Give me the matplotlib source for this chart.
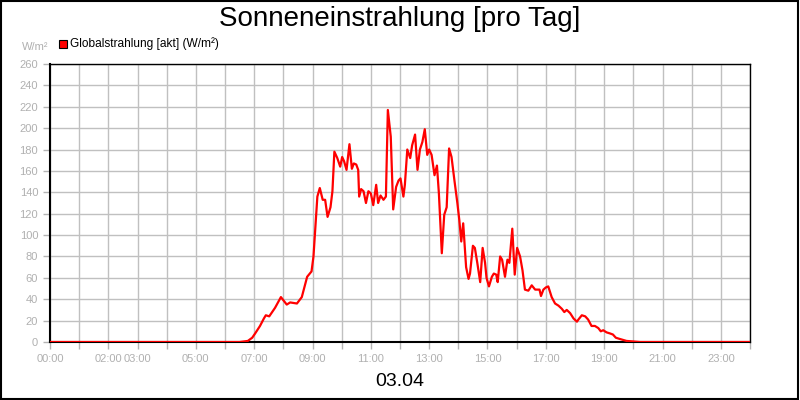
import matplotlib
matplotlib.use("Agg")
import matplotlib.pyplot as plt
from matplotlib.patches import Rectangle

plt.rcParams['font.family'] = ['Liberation Sans', 'DejaVu Sans']

# Minutes after midnight and global radiation (W/m²)
minutes = [0, 390, 407, 416, 422, 432, 440, 444, 451, 463, 475, 487, 494, 508, 518,
           529, 538, 542, 550, 555, 561, 566, 571, 577, 581, 585, 591, 597, 601,
           605, 610, 616, 621, 625, 630, 634, 636, 640, 645, 650, 655, 660, 665,
           671, 675, 680, 686, 691, 695, 701, 706, 712, 717, 721, 727, 730, 735,
           741, 745, 751, 756, 761, 766, 771, 776, 780, 785, 791, 796, 800, 806,
           811, 816, 821, 826, 832, 838, 842, 846, 850, 856, 861, 864, 870, 874,
           879, 885, 890, 895, 898, 903, 909, 913, 918, 921, 926, 930, 936, 941,
           945, 951, 956, 961, 967, 972, 977, 984, 991, 998, 1002, 1007, 1010,
           1015, 1020, 1025, 1032, 1039, 1046, 1053, 1058, 1063, 1070, 1077, 1084,
           1087, 1094, 1101, 1107, 1114, 1121, 1128, 1133, 1138, 1145, 1152, 1158,
           1164, 1171, 1186, 1199, 1214, 1440]
radiation = [0, 0, 1, 4, 8, 15, 22, 25, 24, 32, 42, 35, 37, 36, 42,
             61, 66, 80, 136, 144, 133, 133, 117, 126, 141, 178, 172, 164, 173,
             169, 161, 185, 162, 167, 166, 161, 136, 143, 141, 130, 141, 139, 128,
             147, 130, 137, 133, 136, 217, 192, 124, 145, 151, 153, 136, 147, 180,
             172, 184, 194, 161, 180, 187, 199, 175, 180, 175, 156, 165, 139, 83,
             119, 126, 181, 173, 151, 130, 114, 94, 111, 70, 59, 64, 90, 88,
             74, 56, 88, 74, 60, 52, 61, 64, 63, 56, 80, 77, 61, 77,
             74, 106, 63, 88, 80, 67, 49, 48, 53, 49, 49, 49, 43,
             49, 51, 52, 42, 36, 34, 31, 28, 30, 27, 22, 19,
             21, 25, 24, 21, 15, 15, 13, 10, 11, 9, 8, 7,
             4, 3, 1, 0.5, 0, 0]

hour_ticks = list(range(0, 25))
labelled_hours = [0, 2, 3, 5, 7, 9, 11, 13, 15, 17, 19, 21, 23]
y_ticks = list(range(0, 261, 20))

hours = [m / 60 for m in minutes]
tick_labels = [f"{h:02d}:00" if h in labelled_hours else "" for h in hour_ticks]

grey = "#b4b4b4"

fig = plt.figure(figsize=(8, 4), dpi=100)
ax = fig.add_axes([50 / 800, 58 / 400, 700 / 800, 278 / 400])

ax.plot(hours, radiation, color="#ff0000", lw=1.6, zorder=3)

ax.set_xlim(0, 24)
ax.set_ylim(0, 260)
ax.set_xticks(hour_ticks)
ax.set_xticklabels(tick_labels)
ax.set_yticks(y_ticks)
ax.grid(True, color="#c0c0c0", lw=1)
ax.set_axisbelow(True)
ax.tick_params(axis="both", colors=grey, labelcolor="#b0b0b0", labelsize=8,
               length=5, width=1, direction="out")
for s in ax.spines.values():
    s.set_color("black")
    s.set_linewidth(1)
ax.spines["bottom"].set_linewidth(1.5)
ax.spines["left"].set_linewidth(1.5)

fig.text(0.5, 1 - 19 / 400, "Sonneneinstrahlung [pro Tag]", ha="center", va="center",
         fontsize=20)
fig.text(22 / 800, 1 - 47 / 400, "W/m²", ha="left", va="center", fontsize=8,
         color="#b0b0b0")
fig.patches.append(Rectangle((59 / 800, 1 - 48 / 400), 8 / 800, 8 / 400,
                             transform=fig.transFigure, facecolor="#ff0000",
                             edgecolor="black", lw=0.8))
fig.text(70 / 800, 1 - 44 / 400, "Globalstrahlung [akt] (W/m²)", ha="left",
         va="center", fontsize=8.6, color="black")
fig.text(0.5, 1 - 381 / 400, "03.04", ha="center", va="center", fontsize=14)

fig.patches.append(Rectangle((0.001, 0.002), 0.997, 0.996, transform=fig.transFigure,
                             facecolor="none", edgecolor="black", lw=1.5))

fig.savefig("out.png", dpi=100)
